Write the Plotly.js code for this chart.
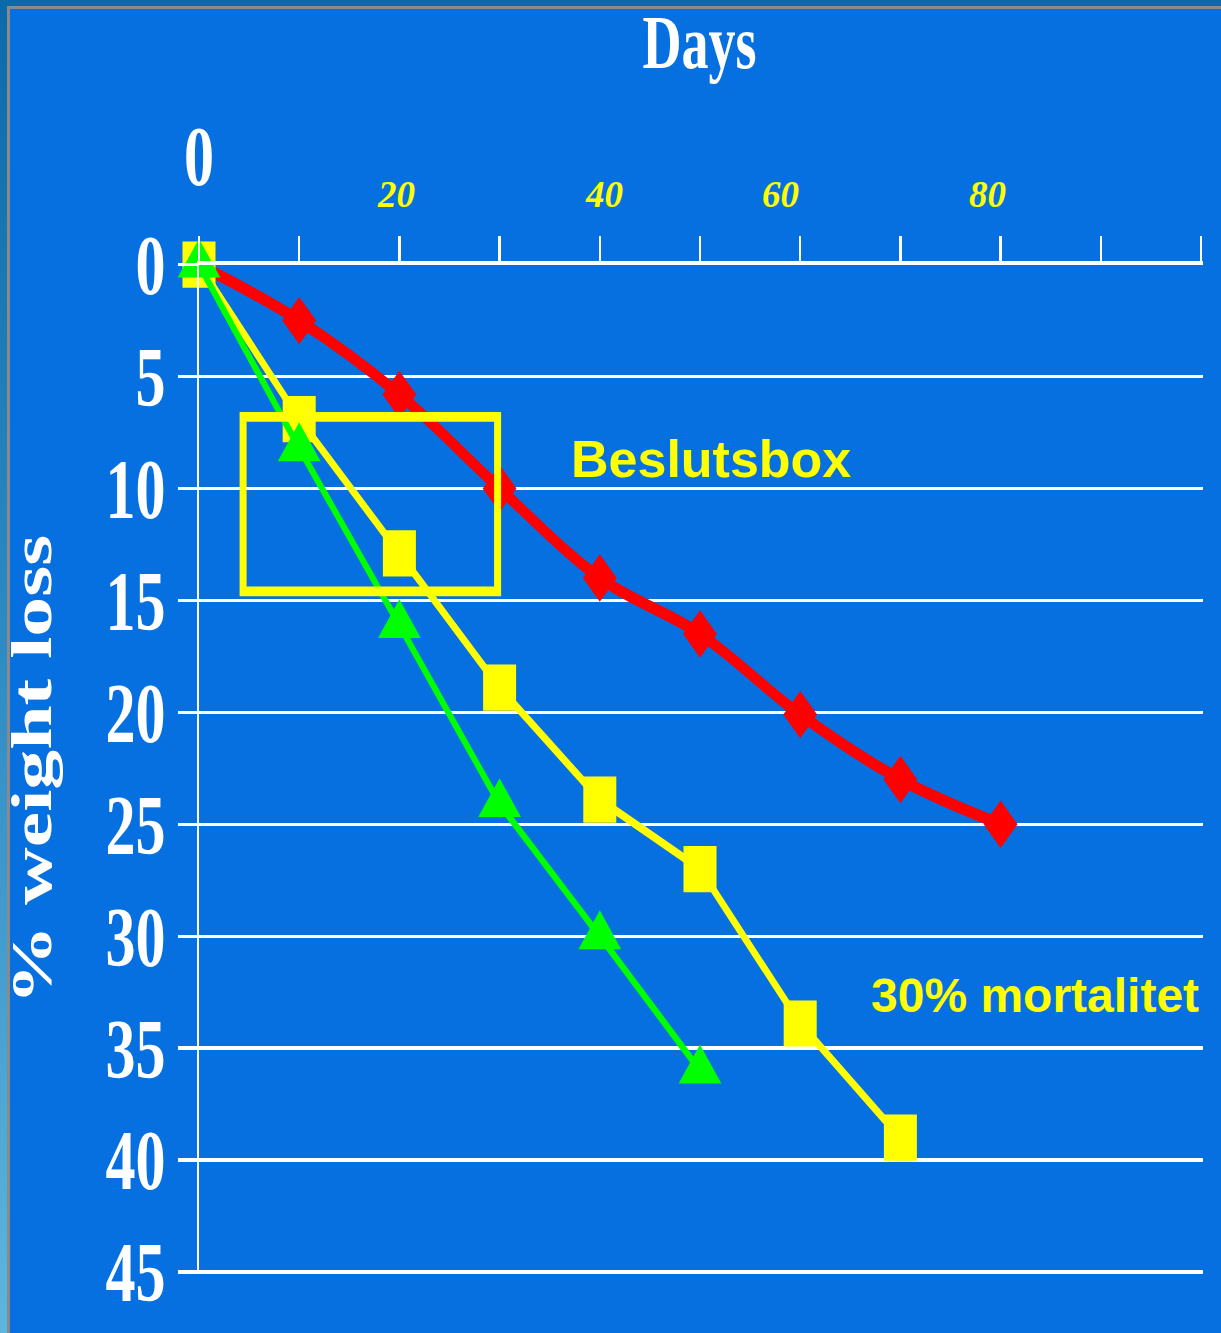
<!DOCTYPE html>
<html>
<head>
<meta charset="utf-8">
<script src="https://cdn.plot.ly/plotly-3.0.1.min.js"></script>
<style>
html,body{margin:0;padding:0;}
body{width:1221px;height:1333px;overflow:hidden;position:relative;
  background:linear-gradient(to bottom,#0c6aa9 0%,#2a88c2 45%,#5db6df 100%);}
#slide{position:absolute;left:7px;top:6px;right:0;bottom:0;background:#0670E0;
  border-left:3px solid #8a8a8a;border-top:3px solid #8a8a8a;}
#main{position:absolute;left:0;top:0;width:1221px;height:952px;
  transform:scaleY(1.400210);transform-origin:0 0;}
#overlay{position:absolute;left:0;top:0;width:1221px;height:1333px;}
</style>
</head>
<body>
<div id="slide"></div>
<div id="main"></div>
<div id="overlay"></div>
<script>
// ---- data ----
const redDays = [0, 10, 20, 30, 40, 50, 60, 70, 80];
const redLoss = [0, 2.5, 5.8, 10, 14, 16.5, 20.1, 23, 25];

const yellowDays = [0, 10, 20, 30, 40, 50, 60, 70];
const yellowLoss = [0, 6.9, 12.9, 18.9, 23.9, 27, 33.9, 39];

const greenDays = [0, 10, 20, 30, 40, 50];
const greenLoss = [0, 8.2, 16.1, 24.1, 30, 36];

const xTickVals = [20, 40, 60, 80];
const xTickText = ['20', '40', '60', '80'];
const yTickVals = [0, 5, 10, 15, 20, 25, 30, 35, 40, 45];
const yTickText = ['0', '5', '10', '15', '20', '25', '30', '35', '40', '45'];

const boxDays = [4.4, 29.8];
const boxLoss = [6.8, 14.6];

const titleText = 'Days';
const yTitleText = '% weight loss';
const boxLabel = 'Beslutsbox';
const mortalityLabel = '30% mortalitet';

// ---- styling ----
const serif = 'Liberation Serif, Times New Roman, serif';
const sans = 'Liberation Sans, Arial, sans-serif';
const WHITE = '#FFFFFF', YELLOW = '#FFFF00', RED = '#FF0000', GREEN = '#00FF00';
const xShift = [-3, 4, -20, -13];

// Main (vertically stretched like the slide)
const traces = [
  {x: redDays, y: redLoss, type: 'scatter', mode: 'lines+markers', cliponaxis: false,
   line: {color: RED, width: 8.5, shape: 'spline', smoothing: 1},
   marker: {symbol: 'diamond', size: 26, color: RED, line: {width: 0}}},
  {x: yellowDays, y: yellowLoss, type: 'scatter', mode: 'lines+markers', cliponaxis: false,
   line: {color: YELLOW, width: 6},
   marker: {symbol: 'square', size: 33, color: YELLOW, line: {width: 0}}},
  {x: greenDays, y: greenLoss, type: 'scatter', mode: 'lines+markers', cliponaxis: false,
   line: {color: GREEN, width: 5.5},
   marker: {symbol: 'triangle-up', size: 37, color: GREEN, line: {width: 0}}}
];

const mainLayout = {
  width: 1221, height: 952,
  margin: {l: 199, r: 18, t: 189, b: 42, pad: 0},
  paper_bgcolor: 'rgba(0,0,0,0)', plot_bgcolor: 'rgba(0,0,0,0)',
  showlegend: false,
  title: {text: titleText, font: {family: serif, size: 54, color: WHITE, weight: 'bold'},
          xref: 'container', x: 699.5 / 1221, xanchor: 'center',
          yref: 'container', y: 0.9689, yanchor: 'middle'},
  xaxis: {range: [0, 100.2], side: 'top', showline: true, linecolor: WHITE, linewidth: 2.4,
          ticks: 'outside', ticklen: 17.9, tickwidth: 2.5, tickcolor: WHITE,
          tick0: 0, dtick: 10, showticklabels: false, showgrid: false, zeroline: false, fixedrange: true},
  yaxis: {range: [45.1, 0], tickmode: 'array', tickvals: yTickVals, ticktext: yTickText,
          showline: true, linecolor: WHITE, linewidth: 2.5,
          ticks: 'outside', ticklen: 19, tickwidth: 2.4, tickcolor: WHITE,
          showgrid: true, gridcolor: WHITE, gridwidth: 2.4, zeroline: false, fixedrange: true,
          tickfont: {family: serif, size: 60, color: WHITE, weight: 'bold'}},
  shapes: [{type: 'rect', xref: 'x', yref: 'y', x0: boxDays[0], x1: boxDays[1],
            y0: boxLoss[0], y1: boxLoss[1], line: {color: YELLOW, width: 7},
            fillcolor: 'rgba(0,0,0,0)', layer: 'above'}],
  annotations: [
    {text: '0', xref: 'x', x: 0, yref: 'paper', y: 1.1074, showarrow: false,
     xanchor: 'center', yanchor: 'middle',
     font: {family: serif, size: 60, color: WHITE, weight: 'bold'}},
    {text: yTitleText, textangle: -90, xref: 'paper', x: 0, xshift: -167,
     yref: 'paper', y: 0.5, showarrow: false, xanchor: 'center', yanchor: 'middle',
     font: {family: serif, size: 57, color: WHITE, weight: 'bold'}}
  ]
};

Plotly.newPlot('main', traces, mainLayout, {staticPlot: true, displayModeBar: false});

// Overlay (unstretched texts)
const overlayAnn = xTickVals.map((v, i) => ({
  text: xTickText[i], xref: 'x', x: v, xshift: xShift[i], yref: 'paper', y: 1.070,
  showarrow: false, xanchor: 'center', yanchor: 'middle',
  font: {family: serif, size: 37, color: YELLOW, style: 'italic', weight: 'bold'}
}));
overlayAnn.push(
  {text: boxLabel, xref: 'paper', x: 0.51, yref: 'paper', y: 0.8073, showarrow: false,
   xanchor: 'center', yanchor: 'middle',
   font: {family: sans, size: 52, color: YELLOW, weight: 'bold'}},
  {text: mortalityLabel, xref: 'paper', x: 0.8322, yref: 'paper', y: 0.2741, showarrow: false,
   xanchor: 'center', yanchor: 'middle',
   font: {family: sans, size: 48, color: YELLOW, weight: 'bold'}}
);

const overlayLayout = {
  width: 1221, height: 1333,
  margin: {l: 199, r: 18, t: 265, b: 61, pad: 0},
  paper_bgcolor: 'rgba(0,0,0,0)', plot_bgcolor: 'rgba(0,0,0,0)',
  showlegend: false,
  xaxis: {range: [0, 100.2], visible: false, fixedrange: true},
  yaxis: {range: [45, 0], visible: false, fixedrange: true},
  annotations: overlayAnn
};

Plotly.newPlot('overlay', [], overlayLayout, {staticPlot: true, displayModeBar: false});
</script>
</body>
</html>
